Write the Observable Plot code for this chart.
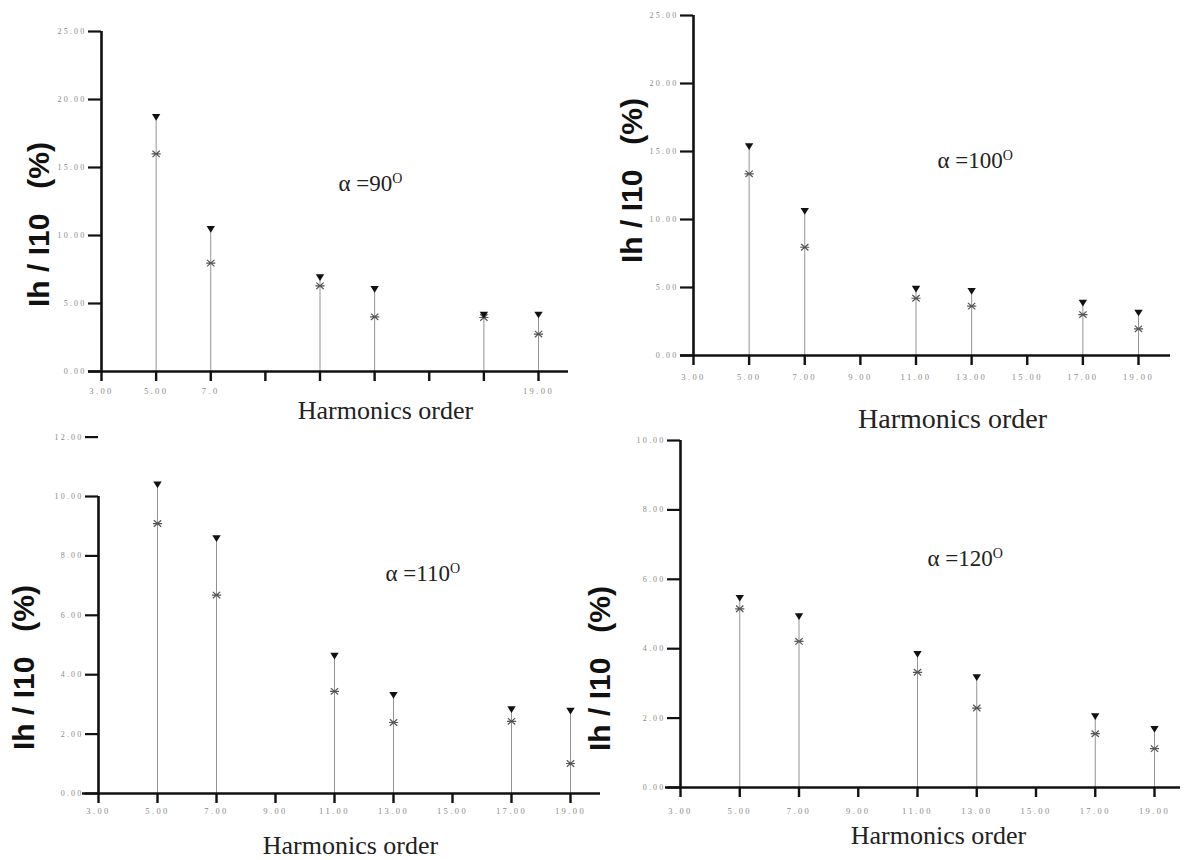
<!DOCTYPE html>
<html>
<head>
<meta charset="utf-8">
<script src="https://cdn.jsdelivr.net/npm/d3@7"></script>
<script src="https://cdn.jsdelivr.net/npm/@observablehq/plot@0.6"></script>
<style>
  html, body { margin: 0; padding: 0; background: #fff; }
  #fig { position: relative; width: 1190px; height: 860px; overflow: hidden; background: #fff; }
  #fig svg { position: absolute; background: transparent; overflow: hidden; }
  #fig g[aria-label="x-axis tick label"] text { letter-spacing: 2.4px; }
  #fig g[aria-label="y-axis tick label"] text { letter-spacing: 2.2px; }
</style>
</head>
<body>
<div id="fig"></div>
<script>
// ---------- data ----------
const alphas = [90, 100, 110, 120];
const harmonics = [5, 7, 11, 13, 17, 19];
const xTicks = [3, 5, 7, 9, 11, 13, 15, 17, 19];
const xTickLabels90 = ["3.00", "5.00", "7.0", "", "", "", "", "", "19.00"];
const xTickLabels = ["3.00", "5.00", "7.00", "9.00", "11.00", "13.00", "15.00", "17.00", "19.00"];
const yTicks25 = [0, 5, 10, 15, 20, 25];
const yTicks12 = [0, 2, 4, 6, 8, 10, 12];
const yTicks10 = [0, 2, 4, 6, 8, 10];

// triangle markers (upper values) and asterisk markers, in % of I10
const triangle90  = [18.70, 10.47, 6.91, 6.06, 4.17, 4.17];
const asterisk90  = [16.00, 7.97, 6.30, 4.02, 3.97, 2.75];
const triangle100 = [15.37, 10.61, 4.90, 4.73, 3.87, 3.14];
const asterisk100 = [13.36, 7.96, 4.21, 3.63, 3.01, 1.96];
const triangle110 = [10.40, 8.59, 4.63, 3.31, 2.83, 2.78];
const asterisk110 = [9.09, 6.68, 3.44, 2.39, 2.43, 1.01];
const triangle120 = [5.46, 4.93, 3.84, 3.17, 2.05, 1.68];
const asterisk120 = [5.15, 4.21, 3.32, 2.29, 1.55, 1.12];

const xAxisTitle = "Harmonics order";
const yAxisTitle = "Ih / I10   (%)";

// ---------- layout (page pixel coordinates) ----------
const layout = [
  {box: [0, 0, 595, 430],    frame: [88, 568, 31, 371],    xRange: [101, 538],  yDomain: [0, 25], yRange: null,          yAxisTop: 25, yTicks: yTicks25, xLabels: xTickLabels90, tri: triangle90,  star: asterisk90,  yTitleAt: [39, 224],  xTitleAt: [385, 410], xTitleSize: 26, alphaAt: [338, 183], tickPad: 6},
  {box: [595, 0, 595, 448],  frame: [680, 1170, 15, 355],  xRange: [693, 1138], yDomain: [0, 25], yRange: null,          yAxisTop: 25, yTicks: yTicks25, xLabels: xTickLabels,   tri: triangle100, star: asterisk100, yTitleAt: [632, 180], xTitleAt: [952, 419], xTitleSize: 28, alphaAt: [937, 160], tickPad: 8},
  {box: [0, 430, 600, 430],  frame: [82, 600, 496, 793],   xRange: [98, 570],   yDomain: [0, 12], yRange: [793, 436.6], yAxisTop: 10, yTicks: yTicks12, xLabels: xTickLabels,   tri: triangle110, star: asterisk110, yTitleAt: [24, 667],  xTitleAt: [350, 845], xTitleSize: 26, alphaAt: [385, 573], tickPad: 4},
  {box: [580, 430, 610, 430],frame: [665, 1180, 440, 787], xRange: [680, 1154], yDomain: [0, 10], yRange: null,          yAxisTop: 10, yTicks: yTicks10, xLabels: xTickLabels,   tri: triangle120, star: asterisk120, yTitleAt: [600, 668], xTitleAt: [938, 835], xTitleSize: 26, alphaAt: [927, 558], tickPad: 10},
];

// ---------- symbols ----------
const starSymbol = {
  draw(ctx, size) {
    const r = Math.sqrt(size / Math.PI);
    ctx.moveTo(-r, 0); ctx.lineTo(r, 0);
    ctx.moveTo(-0.8 * r, -0.7 * r); ctx.lineTo(0.8 * r, 0.7 * r);
    ctx.moveTo(-0.8 * r, 0.7 * r); ctx.lineTo(0.8 * r, -0.7 * r);
  }
};
const triDownSymbol = {
  draw(ctx, size) {
    const r = Math.sqrt(size / Math.PI);
    ctx.moveTo(-r, -0.75 * r); ctx.lineTo(r, -0.75 * r); ctx.lineTo(0, 0.85 * r); ctx.closePath();
  }
};

const fig = document.getElementById("fig");
const SVGNS = "http://www.w3.org/2000/svg";

layout.forEach((L, k) => {
  const [bl, bt, w, h] = L.box;
  const [fl, fr, ft, fb] = L.frame;
  const at = (X, Y) => ({frameAnchor: "top-left", dx: X - fl, dy: Y - ft, textAnchor: "middle", lineAnchor: "middle"});
  const rows = harmonics.map((hh, i) => ({h: hh, tri: L.tri[i], star: L.star[i]}));
  const xl = new Map(xTicks.map((t, i) => [t, L.xLabels[i]]));
  const yOpts = {domain: L.yDomain, label: null};
  if (L.yRange) yOpts.range = L.yRange.map(v => v - bt);
  const alphaText = `\u03b1 =${alphas[k]}`;

  const svg = Plot.plot({
    width: w,
    height: h,
    marginLeft: fl - bl,
    marginRight: bl + w - fr,
    marginTop: ft - bt,
    marginBottom: bt + h - fb,
    style: {background: "transparent", overflow: "hidden"},
    x: {domain: [3, 19], range: [L.xRange[0] - bl, L.xRange[1] - bl], label: null},
    y: yOpts,
    marks: [
      Plot.ruleX(rows, {x: "h", y1: 0, y2: "tri", stroke: "#939393", strokeWidth: 1}),
      Plot.ruleY([0], {stroke: "#111", strokeWidth: 2.6}),
      Plot.ruleX([3], {y1: 0, y2: L.yAxisTop, stroke: "#111", strokeWidth: 2.6}),
      Plot.axisX(xTicks, {
        anchor: "bottom", tickSize: 10, tickPadding: L.tickPad,
        tickFormat: d => xl.get(d), stroke: "#111", strokeWidth: 2.4,
        fill: "#8a8a8a", fontSize: 8.5, fontFamily: "Liberation Serif, serif", label: null
      }),
      Plot.axisY(L.yTicks, {
        anchor: "left", dx: L.xRange[0] - fl, tickSize: 13, tickPadding: 2,
        tickFormat: d => d.toFixed(2), stroke: "#111", strokeWidth: 2.2,
        fill: "#8a8a8a", fontSize: 8, fontFamily: "Liberation Serif, serif", label: null
      }),
      Plot.dot(rows, {x: "h", y: "star", symbol: starSymbol, r: 4.6, stroke: "#555", strokeWidth: 1.2, fill: "none"}),
      Plot.dot(rows, {x: "h", y: "tri", symbol: triDownSymbol, r: 4.2, fill: "#111", stroke: "none"}),
      Plot.text([yAxisTitle], {
        ...at(L.yTitleAt[0], L.yTitleAt[1]), text: d => d, rotate: -90,
        fontSize: 30, fontWeight: "bold", fontFamily: "Liberation Sans, Arial, sans-serif", fill: "#111"
      }),
      Plot.text([xAxisTitle], {
        ...at(L.xTitleAt[0], L.xTitleAt[1]), text: d => d,
        fontSize: L.xTitleSize, fontFamily: "Liberation Serif, serif", fill: "#222"
      }),
      Plot.text([alphaText], {
        ...at(L.alphaAt[0], L.alphaAt[1]), text: d => d, textAnchor: "start",
        fontSize: 23, fontFamily: "Liberation Serif, serif", fill: "#222"
      })
    ]
  });
  svg.style.position = "absolute";
  svg.style.left = bl + "px";
  svg.style.top = bt + "px";
  svg.querySelectorAll("text").forEach(t => {
    if (t.textContent === alphaText) {
      const ts = document.createElementNS(SVGNS, "tspan");
      ts.setAttribute("dy", "-0.55em");
      ts.setAttribute("font-size", "14");
      ts.textContent = "O";
      t.appendChild(ts);
    }
  });
  fig.appendChild(svg);
});
</script>
</body>
</html>
